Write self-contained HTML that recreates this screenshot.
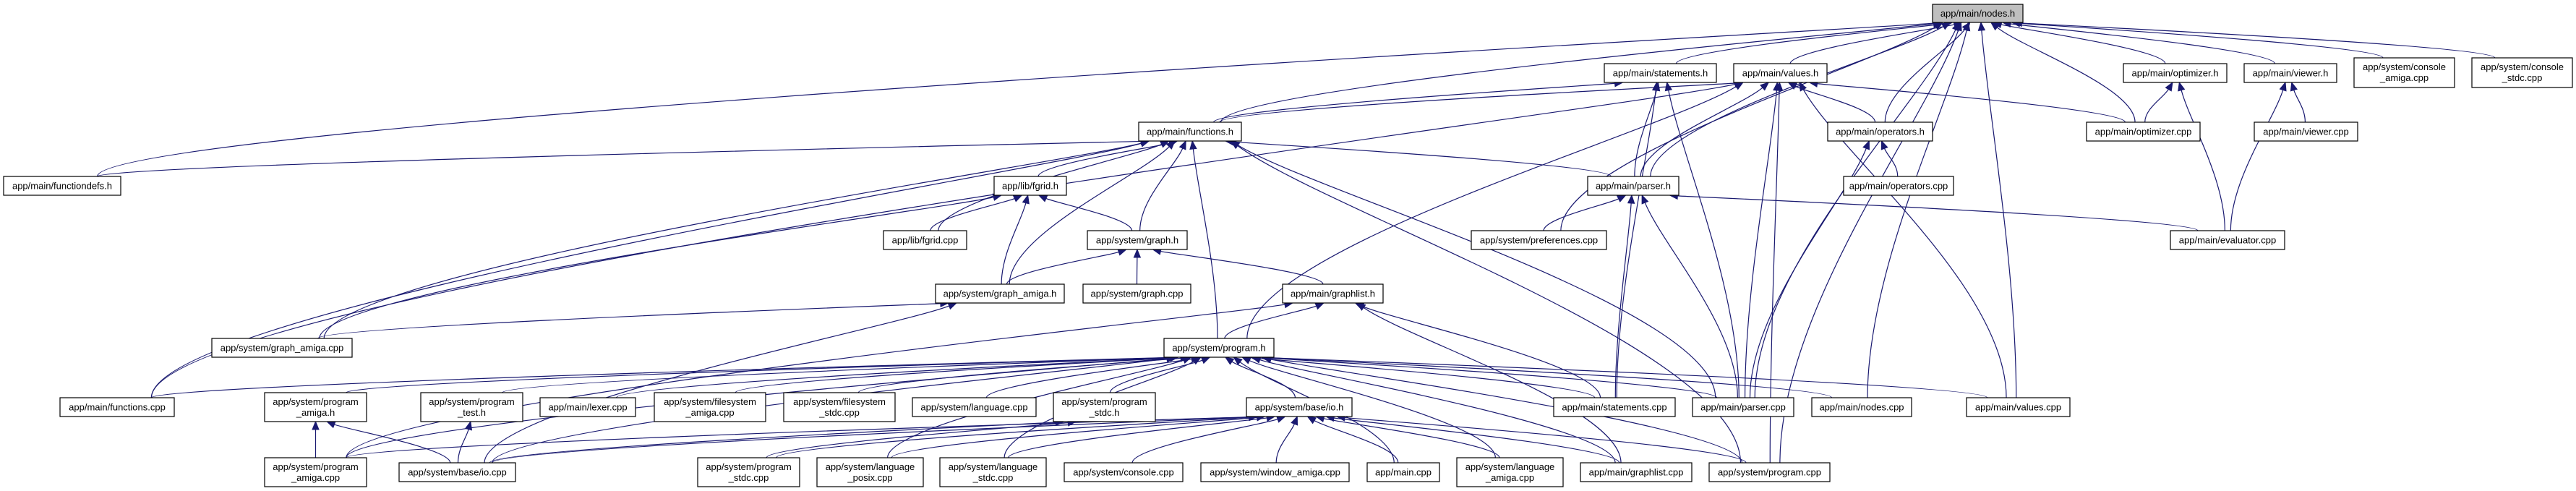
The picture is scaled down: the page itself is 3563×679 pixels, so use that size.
<!DOCTYPE html>
<html><head><meta charset="utf-8">
<style>
html,body{margin:0;padding:0;background:#fff;}
svg{display:block;}
text{font-family:"Liberation Sans",Arial,sans-serif;font-size:13px;fill:#000;text-anchor:middle;}
rect.n{fill:#fff;stroke:#000;stroke-width:1.2;}
</style></head><body>
<svg id="g" width="3563" height="679" viewBox="0 0 3563 679" xmlns="http://www.w3.org/2000/svg">
<g id="edges" fill="none" stroke="#191970" stroke-width="1.2"></g>
<g id="heads" fill="#191970" stroke="#191970" stroke-width="1"></g>
<g id="nodes">
<rect class="n" id="nodes_h" x="2673" y="6" width="125" height="25" style="fill:#bfbfbf"/><text x="2735.5" y="23">app/main/nodes.h</text>
<rect class="n" id="statements_h" x="2219" y="88" width="155" height="26"/><text x="2296.5" y="105.5">app/main/statements.h</text>
<rect class="n" id="values_h" x="2398" y="88" width="129" height="26"/><text x="2462.5" y="105.5">app/main/values.h</text>
<rect class="n" id="optimizer_h" x="2937" y="88" width="143" height="26"/><text x="3008.5" y="105.5">app/main/optimizer.h</text>
<rect class="n" id="viewer_h" x="3104" y="88" width="128" height="26"/><text x="3168" y="105.5">app/main/viewer.h</text>
<rect class="n" id="console_amiga" x="3256" y="80" width="139" height="41"/><text x="3325.5" y="97">app/system/console</text><text x="3325.5" y="112">_amiga.cpp</text>
<rect class="n" id="console_stdc" x="3419" y="80" width="139" height="41"/><text x="3488.5" y="97">app/system/console</text><text x="3488.5" y="112">_stdc.cpp</text>
<rect class="n" id="functions_h" x="1575" y="169" width="142" height="26"/><text x="1646" y="186.5">app/main/functions.h</text>
<rect class="n" id="operators_h" x="2528" y="169" width="145" height="26"/><text x="2600.5" y="186.5">app/main/operators.h</text>
<rect class="n" id="optimizer_cpp" x="2886" y="169" width="157" height="26"/><text x="2964.5" y="186.5">app/main/optimizer.cpp</text>
<rect class="n" id="viewer_cpp" x="3118" y="169" width="143" height="26"/><text x="3189.5" y="186.5">app/main/viewer.cpp</text>
<rect class="n" id="functiondefs_h" x="5" y="244" width="162" height="26"/><text x="86" y="261.5">app/main/functiondefs.h</text>
<rect class="n" id="fgrid_h" x="1375" y="244" width="100" height="26"/><text x="1425" y="261.5">app/lib/fgrid.h</text>
<rect class="n" id="parser_h" x="2196" y="244" width="126" height="26"/><text x="2259" y="261.5">app/main/parser.h</text>
<rect class="n" id="operators_cpp" x="2550" y="244" width="152" height="26"/><text x="2626" y="261.5">app/main/operators.cpp</text>
<rect class="n" id="fgrid_cpp" x="1222" y="319" width="115" height="26"/><text x="1279.5" y="336.5">app/lib/fgrid.cpp</text>
<rect class="n" id="graph_h" x="1504" y="319" width="138" height="26"/><text x="1573" y="336.5">app/system/graph.h</text>
<rect class="n" id="preferences_cpp" x="2035" y="319" width="187" height="26"/><text x="2128.5" y="336.5">app/system/preferences.cpp</text>
<rect class="n" id="evaluator_cpp" x="3002" y="319" width="158" height="26"/><text x="3081" y="336.5">app/main/evaluator.cpp</text>
<rect class="n" id="graph_amiga_h" x="1294" y="393" width="178" height="26"/><text x="1383" y="410.5">app/system/graph_amiga.h</text>
<rect class="n" id="graph_cpp" x="1498" y="393" width="149" height="26"/><text x="1572.5" y="410.5">app/system/graph.cpp</text>
<rect class="n" id="graphlist_h" x="1774" y="393" width="139" height="26"/><text x="1843.5" y="410.5">app/main/graphlist.h</text>
<rect class="n" id="graph_amiga_cpp" x="293" y="468" width="194" height="26"/><text x="390" y="485.5">app/system/graph_amiga.cpp</text>
<rect class="n" id="program_h" x="1610" y="468" width="152" height="26"/><text x="1686" y="485.5">app/system/program.h</text>
<rect class="n" id="functions_cpp" x="83" y="550" width="158" height="26"/><text x="162" y="567.5">app/main/functions.cpp</text>
<rect class="n" id="program_amiga_h" x="366" y="543" width="141" height="40"/><text x="436.5" y="560">app/system/program</text><text x="436.5" y="575">_amiga.h</text>
<rect class="n" id="program_test_h" x="582" y="543" width="141" height="40"/><text x="652.5" y="560">app/system/program</text><text x="652.5" y="575">_test.h</text>
<rect class="n" id="lexer_cpp" x="747" y="550" width="132" height="26"/><text x="813" y="567.5">app/main/lexer.cpp</text>
<rect class="n" id="fs_amiga" x="905" y="543" width="154" height="40"/><text x="982" y="560">app/system/filesystem</text><text x="982" y="575">_amiga.cpp</text>
<rect class="n" id="fs_stdc" x="1084" y="543" width="154" height="40"/><text x="1161" y="560">app/system/filesystem</text><text x="1161" y="575">_stdc.cpp</text>
<rect class="n" id="language_cpp" x="1262" y="550" width="171" height="26"/><text x="1347.5" y="567.5">app/system/language.cpp</text>
<rect class="n" id="program_stdc_h" x="1457" y="543" width="141" height="40"/><text x="1527.5" y="560">app/system/program</text><text x="1527.5" y="575">_stdc.h</text>
<rect class="n" id="io_h" x="1724" y="550" width="146" height="26"/><text x="1797" y="567.5">app/system/base/io.h</text>
<rect class="n" id="statements_cpp" x="2149" y="550" width="168" height="26"/><text x="2233" y="567.5">app/main/statements.cpp</text>
<rect class="n" id="parser_cpp" x="2341" y="550" width="140" height="26"/><text x="2411" y="567.5">app/main/parser.cpp</text>
<rect class="n" id="nodes_cpp" x="2506" y="550" width="138" height="26"/><text x="2575" y="567.5">app/main/nodes.cpp</text>
<rect class="n" id="values_cpp" x="2720" y="550" width="143" height="26"/><text x="2791.5" y="567.5">app/main/values.cpp</text>
<rect class="n" id="program_amiga_cpp" x="366" y="633" width="141" height="40"/><text x="436.5" y="650">app/system/program</text><text x="436.5" y="665">_amiga.cpp</text>
<rect class="n" id="io_cpp" x="552" y="640" width="161" height="26"/><text x="632.5" y="657.5">app/system/base/io.cpp</text>
<rect class="n" id="program_stdc_cpp" x="965" y="633" width="141" height="40"/><text x="1035.5" y="650">app/system/program</text><text x="1035.5" y="665">_stdc.cpp</text>
<rect class="n" id="language_posix" x="1130" y="633" width="147" height="40"/><text x="1203.5" y="650">app/system/language</text><text x="1203.5" y="665">_posix.cpp</text>
<rect class="n" id="language_stdc" x="1300" y="633" width="147" height="40"/><text x="1373.5" y="650">app/system/language</text><text x="1373.5" y="665">_stdc.cpp</text>
<rect class="n" id="console_cpp" x="1472" y="640" width="164" height="26"/><text x="1554" y="657.5">app/system/console.cpp</text>
<rect class="n" id="window_amiga" x="1661" y="640" width="205" height="26"/><text x="1763.5" y="657.5">app/system/window_amiga.cpp</text>
<rect class="n" id="main_cpp" x="1891" y="640" width="100" height="26"/><text x="1941" y="657.5">app/main.cpp</text>
<rect class="n" id="language_amiga" x="2015" y="633" width="147" height="40"/><text x="2088.5" y="650">app/system/language</text><text x="2088.5" y="665">_amiga.cpp</text>
<rect class="n" id="graphlist_cpp" x="2186" y="640" width="154" height="26"/><text x="2263" y="657.5">app/main/graphlist.cpp</text>
<rect class="n" id="program_cpp" x="2364" y="640" width="167" height="26"/><text x="2447.5" y="657.5">app/system/program.cpp</text>
</g>
</svg>
<script>
(function(){
var E=[
["functiondefs_h","nodes_h"],["functions_h","nodes_h"],["statements_h","nodes_h"],["values_h","nodes_h"],["parser_h","nodes_h"],["preferences_cpp","nodes_h"],["operators_h","nodes_h"],["optimizer_h","nodes_h"],["viewer_h","nodes_h"],["console_amiga","nodes_h"],["console_stdc","nodes_h"],["optimizer_cpp","nodes_h"],["values_cpp","nodes_h"],["nodes_cpp","nodes_h"],["parser_cpp","nodes_h"],["program_cpp","nodes_h"],
["functions_h","statements_h"],["parser_h","statements_h"],["statements_cpp","statements_h"],["parser_cpp","statements_h"],
["functions_h","values_h"],["parser_h","values_h"],["operators_h","values_h"],["optimizer_cpp","values_h"],["values_cpp","values_h"],["parser_cpp","values_h"],["program_h","values_h"],["program_cpp","values_h"],["functions_cpp","values_h"],
["functiondefs_h","functions_h"],["functions_cpp","functions_h"],["fgrid_h","functions_h"],["fgrid_cpp","functions_h"],["graph_h","functions_h"],["graph_amiga_h","functions_h"],["program_h","functions_h"],["program_cpp","functions_h"],["parser_h","functions_h"],["parser_cpp","functions_h"],["graph_amiga_cpp","functions_h"],
["fgrid_cpp","fgrid_h"],["graph_h","fgrid_h"],["graph_amiga_h","fgrid_h"],["graph_amiga_cpp","fgrid_h"],
["graph_amiga_h","graph_h"],["graph_cpp","graph_h"],["graphlist_h","graph_h"],
["program_h","graphlist_h"],["statements_cpp","graphlist_h"],["graphlist_cpp","graphlist_h"],["program_amiga_cpp","graphlist_h"],
["graph_amiga_cpp","graph_amiga_h"],["io_cpp","graph_amiga_h"],
["preferences_cpp","parser_h"],["statements_cpp","parser_h"],["parser_cpp","parser_h"],["evaluator_cpp","parser_h"],
["operators_cpp","operators_h"],["parser_cpp","operators_h"],
["optimizer_cpp","optimizer_h"],["evaluator_cpp","optimizer_h"],
["viewer_cpp","viewer_h"],["evaluator_cpp","viewer_h"],
["functions_cpp","program_h"],["program_amiga_h","program_h"],["program_test_h","program_h"],["lexer_cpp","program_h"],["fs_amiga","program_h"],["fs_stdc","program_h"],["language_cpp","program_h"],["program_stdc_h","program_h"],["io_h","program_h"],["io_cpp","program_h"],["program_amiga_cpp","program_h"],["language_posix","program_h"],["language_stdc","program_h"],["statements_cpp","program_h"],["parser_cpp","program_h"],["nodes_cpp","program_h"],["values_cpp","program_h"],["program_cpp","program_h"],["graphlist_cpp","program_h"],["main_cpp","program_h"],["language_amiga","program_h"],
["program_amiga_cpp","program_amiga_h"],["io_cpp","program_amiga_h"],
["io_cpp","program_test_h"],
["program_stdc_cpp","program_stdc_h"],["io_cpp","program_stdc_h"],
["program_amiga_cpp","io_h"],["io_cpp","io_h"],["program_stdc_cpp","io_h"],["language_posix","io_h"],["language_stdc","io_h"],["console_cpp","io_h"],["window_amiga","io_h"],["main_cpp","io_h"],["language_amiga","io_h"],["graphlist_cpp","io_h"],["program_cpp","io_h"]
];
function B(id){var r=document.getElementById(id);return{x:+r.getAttribute('x'),y:+r.getAttribute('y'),w:+r.getAttribute('width'),h:+r.getAttribute('height')};}
var ns="http://www.w3.org/2000/svg",ge=document.getElementById('edges'),gh=document.getElementById('heads');
E.forEach(function(e){
 var c=B(e[0]),p=B(e[1]);
 var cx=c.x+c.w/2,cy=c.y;
 var pcx=p.x+p.w/2;
 var off=(cx-pcx)*0.08;var lim=p.w*0.4;if(off>lim)off=lim;if(off<-lim)off=-lim;
 var sx=cx+Math.max(-c.w*0.3,Math.min(c.w*0.3,(pcx-cx)*0.05));
 var px=pcx+off,py=p.y+p.h;
 var dy=cy-py;
 var c1x=sx,c1y=cy-dy*0.35;
 var c2x=px+(sx-px)*0.3,c2y=py+dy*0.35;
 var ax=px-c2x,ay=py-c2y,L=Math.sqrt(ax*ax+ay*ay)||1;ax/=L;ay/=L;
 var hl=11,hw=4.5;
 var bx=px-ax*hl,by=py-ay*hl;
 var path=document.createElementNS(ns,'path');
 var k=Math.min(dy*0.35,L*0.6);
 var c2xx=bx-ax*k,c2yy=by-ay*k;
 path.setAttribute('d','M'+sx+','+cy+' C'+c1x+','+c1y+' '+c2xx+','+c2yy+' '+bx+','+by);
 ge.appendChild(path);
 var poly=document.createElementNS(ns,'polygon');
 poly.setAttribute('points',px+','+py+' '+(bx-ay*hw)+','+(by+ax*hw)+' '+(bx+ay*hw)+','+(by-ax*hw));
 gh.appendChild(poly);
});
})();
</script>
</body></html>
